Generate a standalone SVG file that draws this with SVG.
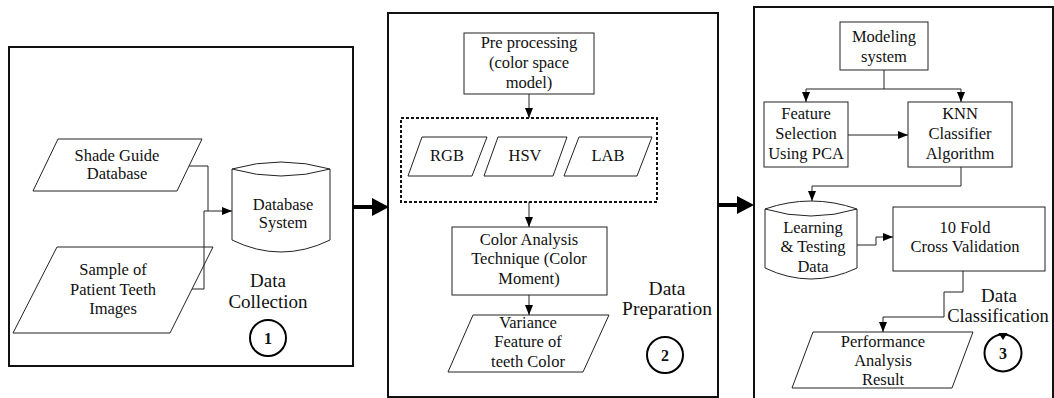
<svg xmlns="http://www.w3.org/2000/svg" width="1054" height="398" viewBox="0 0 1054 398">
<defs>
<style>
text{font-family:"Liberation Serif","Times New Roman",serif;font-size:16.5px;fill:#111;text-anchor:middle}
.lbl{font-size:19px}
.num{font-size:16px;font-weight:bold}
.panel{fill:none;stroke:#111;stroke-width:2}
.node{fill:#fff;stroke:#222;stroke-width:1}
.conn{fill:none;stroke:#222;stroke-width:1}
.thick{stroke:#000;stroke-width:4}
</style>
<marker id="ah" markerUnits="userSpaceOnUse" markerWidth="10" markerHeight="10" viewBox="0 0 10 10" refX="10" refY="5" orient="auto">
<path d="M0,1 L10,5 L0,9 Z" fill="#000"/>
</marker>
</defs>

<g id="panel1">
<rect class="panel" x="9" y="47" width="344" height="319"/>
<text class="lbl" x="268" y="287">Data</text>
<text class="lbl" x="268" y="308">Collection</text>
<circle cx="268" cy="338" r="18" fill="#fff" stroke="#000" stroke-width="2"/>
<text class="num" x="268" y="344">1</text>
</g>

<g id="panel2">
<rect class="panel" x="388" y="13" width="330" height="384"/>
<text class="lbl" x="667" y="295" style="font-size:19.5px">Data</text>
<text class="lbl" x="667" y="315" style="font-size:19.5px">Preparation</text>
<circle cx="665" cy="355" r="18" fill="#fff" stroke="#000" stroke-width="2"/>
<text class="num" x="665" y="361">2</text>
</g>

<g id="panel3">
<rect class="panel" x="754" y="7" width="299" height="400"/>
<text class="lbl" x="999" y="302">Data</text>
<text class="lbl" x="998" y="322" style="font-size:18.5px">Classification</text>
<circle cx="1003" cy="353" r="18.5" fill="#fff" stroke="#000" stroke-width="2"/>
<text class="num" x="1003" y="359">3</text>
<polygon points="998.5,333 1007.5,333 1003,340" fill="#000"/>
</g>

<g id="shade-guide">
<polygon class="node" points="58,139 202,139 177,191 33,191"/>
<text x="117" y="161">Shade Guide</text>
<text x="117" y="179">Database</text>
</g>

<g id="sample-images">
<polygon class="node" points="57,247 213,247 170,333 13,333"/>
<text x="113" y="275">Sample of</text>
<text x="113" y="295">Patient Teeth</text>
<text x="113" y="314">Images</text>
</g>

<g id="database-system">
<path class="node" d="M232,169 Q281,155 330,169 L330,240 Q281,264 232,240 Z"/>
<path class="conn" d="M232,169 Q281,183 330,169"/>
<text x="283" y="210">Database</text>
<text x="283" y="228">System</text>
</g>

<g id="preprocessing">
<rect class="node" x="464" y="33" width="130" height="61"/>
<text x="529" y="48">Pre processing</text>
<text x="529" y="68">(color space</text>
<text x="529" y="88">model)</text>
</g>

<g id="color-spaces">
<rect x="401" y="118" width="256" height="84" fill="none" stroke="#111" stroke-width="2" stroke-dasharray="3 2"/>
</g>

<g id="rgb">
<polygon class="node" points="422,137 487,137 472,176 408,176"/>
<text x="447" y="161">RGB</text>
</g>

<g id="hsv">
<polygon class="node" points="498,137 567,137 553,176 484,176"/>
<text x="525" y="161">HSV</text>
</g>

<g id="lab">
<polygon class="node" points="579,137 652,137 637,176 564,176"/>
<text x="608" y="161">LAB</text>
</g>

<g id="color-analysis">
<rect class="node" x="452" y="227" width="155" height="68"/>
<text x="529" y="245">Color Analysis</text>
<text x="529" y="264">Technique (Color</text>
<text x="529" y="284">Moment)</text>
</g>

<g id="variance-feature">
<polygon class="node" points="473,315 609,315 583,372 448,372"/>
<text x="528" y="328">Variance</text>
<text x="528" y="347">Feature of</text>
<text x="528" y="367">teeth Color</text>
</g>

<g id="modeling-system">
<rect class="node" x="840" y="22" width="88" height="48"/>
<text x="884" y="42">Modeling</text>
<text x="884" y="62">system</text>
</g>

<g id="feature-selection">
<rect class="node" x="764" y="102" width="84" height="65"/>
<text x="806" y="119">Feature</text>
<text x="806" y="139">Selection</text>
<text x="806" y="159">Using PCA</text>
</g>

<g id="knn">
<rect class="node" x="908" y="102" width="104" height="65"/>
<text x="960" y="119">KNN</text>
<text x="960" y="139">Classifier</text>
<text x="960" y="159">Algorithm</text>
</g>

<g id="learning-testing">
<path class="node" d="M765,209 Q811,193 857,209 L857,268 Q811,290 765,268 Z"/>
<path class="conn" d="M765,209 Q811,223 857,209"/>
<text x="813" y="233">Learning</text>
<text x="813" y="252">&amp; Testing</text>
<text x="813" y="272">Data</text>
</g>

<g id="cross-validation">
<rect class="node" x="893" y="207" width="152" height="64"/>
<text x="965" y="233">10 Fold</text>
<text x="965" y="252">Cross Validation</text>
</g>

<g id="performance">
<polygon class="node" points="813,332 973,332 952,388 792,388"/>
<text x="883" y="347">Performance</text>
<text x="883" y="366">Analysis</text>
<text x="883" y="385">Result</text>
</g>

<g id="connectors">
<path class="conn" d="M189,166 H208 V211 H232" marker-end="url(#ah)"/>
<path class="conn" d="M192,289 H204 V211 H208"/>
<line class="thick" x1="353" y1="207" x2="374" y2="207"/>
<polygon points="372,198 389,207 372,216" fill="#000"/>
<line class="thick" x1="718" y1="205" x2="739" y2="205"/>
<polygon points="737,196 754,205 737,214" fill="#000"/>
<path class="conn" d="M529,94 V118" marker-end="url(#ah)"/>
<path class="conn" d="M529,202 V227" marker-end="url(#ah)"/>
<path class="conn" d="M529,295 V315" marker-end="url(#ah)"/>
<path class="conn" d="M884,70 V89"/>
<path class="conn" d="M884,89 H806 V102" marker-end="url(#ah)"/>
<path class="conn" d="M884,89 H961 V102" marker-end="url(#ah)"/>
<path class="conn" d="M848,135 H908" marker-end="url(#ah)"/>
<path class="conn" d="M961,167 V186 H812 V201" marker-end="url(#ah)"/>
<path class="conn" d="M857,245 H876 V237 H893" marker-end="url(#ah)"/>
<path class="conn" d="M963,271 V292 H944 V317 H883 V332" marker-end="url(#ah)"/>
</g>
</svg>
